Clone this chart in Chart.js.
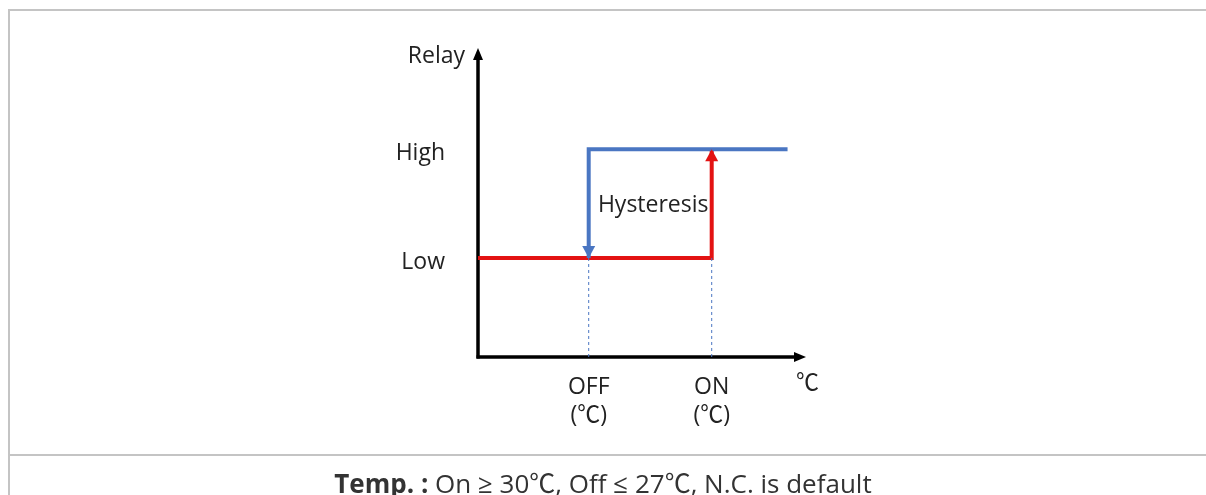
<!DOCTYPE html>
<html><head><meta charset="utf-8">
<script src="https://cdn.jsdelivr.net/npm/chart.js@4/dist/chart.umd.min.js"></script>
<style>
html,body{margin:0;padding:0;background:#fff;}
body{width:1206px;height:495px;position:relative;overflow:hidden;font-family:"Open Sans","Noto Sans CJK KR",sans-serif;}
#wrap{position:absolute;left:0;top:0;width:1206px;height:495px;}
.bt{position:absolute;left:8px;right:0;top:9px;height:0;border-top:2px solid #c4c4c4;}
.bm{position:absolute;left:8px;right:0;top:454px;height:0;border-top:2px solid #c4c4c4;}
.bl{position:absolute;left:8px;top:9px;bottom:0;width:0;border-left:2px solid #c4c4c4;}
#cap{position:absolute;left:0;width:1206px;top:467px;text-align:center;font-size:26px;color:#333;line-height:32px;}
canvas{position:absolute;left:0;top:0;}
</style></head>
<body>
<div class="bt"></div><div class="bm"></div><div class="bl"></div>
<div id="wrap"><canvas id="c" width="1206" height="495"></canvas></div>
<div id="cap"><b>Temp. :</b> On ≥ 30℃, Off ≤ 27℃, N.C. is default</div>
<script>
// Data
const levelLabels = ['Low', 'High'];
const levelValues = [0, 1];
const thresholdLabels = ['OFF', 'ON'];
const thresholdTemps = [27, 30];
const unitLabel = '(℃)';
const axisXLabel = '℃';
const axisYLabel = 'Relay';
const noteLabel = 'Hysteresis';
// heating (red) path: low until ON, then up to high
const redX = [24.3, 30, 30];
const redY = [0, 0, 1];
// cooling (blue) path: high until OFF, then down to low
const blueX = [31.85, 27, 27];
const blueY = [1, 1, 0];
const xMin = 24.3, xMax = 32.3, yMin = -0.91, yMax = 1.93;

const RED = '#e31212', BLUE = '#4a76c2', INK = '#222';
const FONT = '"Open Sans","Noto Sans CJK KR",sans-serif';

function pts(xs, ys){ return xs.map((x,i)=>({x:x,y:ys[i]})); }

const dashSets = thresholdTemps.map(t => ({
  data: [{x:t,y:0},{x:t,y:yMin}],
  borderColor: BLUE, borderWidth: 1, borderDash:[3,3], pointRadius:0, showLine:true, fill:false
}));

function arrowHead(ctx, x, y, dir, size, w, color){
  ctx.save(); ctx.fillStyle = color; ctx.beginPath();
  if(dir==='up'){ ctx.moveTo(x,y); ctx.lineTo(x-w,y+size); ctx.lineTo(x+w,y+size); }
  else if(dir==='down'){ ctx.moveTo(x,y); ctx.lineTo(x-w,y-size); ctx.lineTo(x+w,y-size); }
  else { ctx.moveTo(x,y); ctx.lineTo(x-size,y-w); ctx.lineTo(x-size,y+w); }
  ctx.closePath(); ctx.fill(); ctx.restore();
}

const deco = {
  id:'deco',
  beforeDatasetsDraw(chart){
    const {ctx, scales:{x,y}} = chart;
    const x0 = x.getPixelForValue(xMin), y0 = y.getPixelForValue(yMin);
    const yTop = y.getPixelForValue(yMax), xEnd = x.getPixelForValue(xMax);
    ctx.save();
    ctx.strokeStyle = '#000'; ctx.lineWidth = 3.5; ctx.lineCap='butt';
    ctx.beginPath(); ctx.moveTo(x0, y0+1.5); ctx.lineTo(x0, yTop+10); ctx.stroke();
    ctx.beginPath(); ctx.moveTo(x0-1.5, y0); ctx.lineTo(xEnd-10, y0); ctx.stroke();
    arrowHead(ctx, x0, yTop, 'up', 12, 5, '#000');
    arrowHead(ctx, xEnd, y0, 'right', 12, 5, '#000');
    ctx.restore();
  },
  afterDatasetsDraw(chart){
    const {ctx, scales:{x,y}} = chart;
    const x0 = x.getPixelForValue(xMin), y0 = y.getPixelForValue(yMin);
    const yTop = y.getPixelForValue(yMax), xEnd = x.getPixelForValue(xMax);
    const rl = redX.length-1, bl = blueX.length-1;
    arrowHead(ctx, x.getPixelForValue(redX[rl]), y.getPixelForValue(redY[rl]), 'up', 12, 6.5, RED);
    arrowHead(ctx, x.getPixelForValue(blueX[bl]), y.getPixelForValue(blueY[bl]), 'down', 12, 6.5, BLUE);
    ctx.save();
    ctx.fillStyle = INK; ctx.font = '23px '+FONT; ctx.textBaseline='middle';
    ctx.textAlign='right';
    ctx.fillText(axisYLabel, x0-13, yTop+8);
    levelValues.forEach((v,i)=>{ ctx.fillText(levelLabels[i], x0-33, y.getPixelForValue(v)+4); });
    ctx.textAlign='center';
    thresholdTemps.forEach((t,i)=>{
      const px = x.getPixelForValue(t);
      ctx.fillText(thresholdLabels[i], px, y0+30);
      ctx.fillText(unitLabel, px, y0+58);
    });
    ctx.textAlign='left';
    ctx.fillText(axisXLabel, xEnd-10, y0+26);
    ctx.textAlign='center';
    const hx = (x.getPixelForValue(thresholdTemps[0])+x.getPixelForValue(thresholdTemps[1]))/2+3;
    ctx.fillText(noteLabel, hx, y.getPixelForValue(0.5)+2);
    ctx.restore();
  }
};

new Chart(document.getElementById('c'), {
  type:'scatter',
  data:{ datasets:[
    ...dashSets,
    {data: pts(blueX, blueY), borderColor: BLUE, borderWidth:4, pointRadius:0, showLine:true, fill:false, borderJoinStyle:'miter'},
    {data: pts(redX, redY), borderColor: RED, borderWidth:4, pointRadius:0, showLine:true, fill:false, borderJoinStyle:'miter'}
  ]},
  options:{
    responsive:false, animation:false, events:[],
    layout:{padding:{left:478, right:400, top:48, bottom:138}},
    plugins:{legend:{display:false}, tooltip:{enabled:false}},
    scales:{
      x:{type:'linear', min:xMin, max:xMax, display:false},
      y:{type:'linear', min:yMin, max:yMax, display:false}
    }
  },
  plugins:[deco]
});
</script>
</body></html>
